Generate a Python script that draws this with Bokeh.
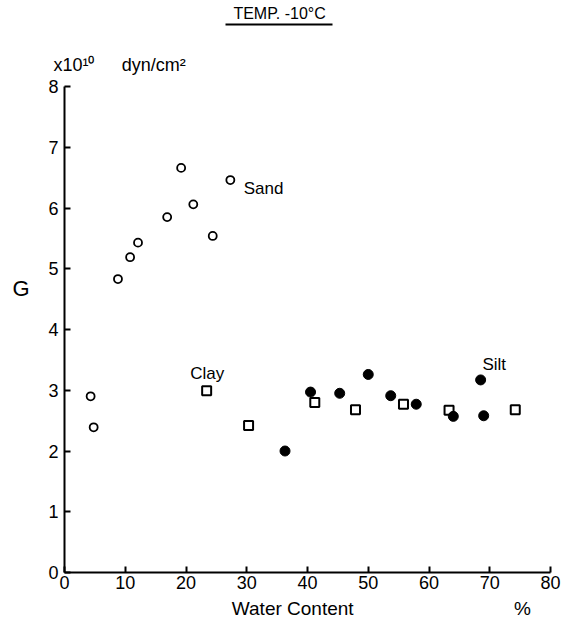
from bokeh.plotting import figure
from bokeh.models import Range1d, Label, FixedTicker, LinearAxis
from bokeh.embed import file_html
from bokeh.resources import INLINE

# Data (G in x10^10 dyn/cm^2 vs water content %)
sand_x = [4.3, 4.8, 8.8, 10.8, 12.1, 16.9, 19.2, 21.2, 24.4, 27.3]
sand_y = [2.90, 2.39, 4.83, 5.19, 5.43, 5.85, 6.66, 6.06, 5.54, 6.46]
clay_x = [23.4, 30.3, 41.2, 47.9, 55.8, 63.3, 74.2]
clay_y = [2.99, 2.42, 2.80, 2.68, 2.77, 2.67, 2.68]
silt_x = [36.3, 40.5, 45.3, 50.0, 53.7, 57.9, 64.0, 68.5, 69.0]
silt_y = [2.00, 2.97, 2.95, 3.26, 2.91, 2.77, 2.57, 3.17, 2.58]
x_ticks = [0, 10, 20, 30, 40, 50, 60, 70, 80]
y_ticks = [0, 1, 2, 3, 4, 5, 6, 7, 8]

FONT = "Liberation Sans"

p = figure(width=574, height=623, output_backend="svg", toolbar_location=None,
           x_range=Range1d(0, 80), y_range=Range1d(0, 8),
           min_border_left=64, min_border_right=24, min_border_top=86, min_border_bottom=51)
p.outline_line_color = None
p.grid.grid_line_color = None

for ax in (p.xaxis[0], p.yaxis[0]):
    ax.axis_line_width = 2
    ax.axis_line_color = "black"
    ax.major_tick_in = 6
    ax.major_tick_out = 0
    ax.major_tick_line_width = 2
    ax.minor_tick_line_color = None
    ax.major_label_text_font = FONT
    ax.major_label_text_font_size = "18px"
    ax.major_label_text_color = "black"
p.xaxis[0].ticker = FixedTicker(ticks=x_ticks)
p.yaxis[0].ticker = FixedTicker(ticks=y_ticks)
p.xaxis[0].major_label_standoff = 3
p.yaxis[0].major_label_standoff = 6


def text_axis(side, ticks, labels, size, standoff, line=False, bounds=None):
    ax = LinearAxis(ticker=FixedTicker(ticks=ticks),
                    major_label_overrides={t: s for t, s in zip(ticks, labels)},
                    major_tick_in=0, major_tick_out=0,
                    major_tick_line_color=None, minor_tick_line_color=None,
                    major_label_standoff=standoff,
                    major_label_text_font=FONT, major_label_text_font_size=size,
                    major_label_text_color="black")
    if line:
        ax.axis_line_width = 2
        ax.axis_line_color = "black"
        if bounds is not None:
            ax.bounds = bounds
    else:
        ax.axis_line_color = None
    p.add_layout(ax, side)
    return ax


# below: axis title and unit
text_axis("below", [38.0, 75.4], ["Water  Content", "%"], "19px", 6)
# left: G
text_axis("left", [4.67], ["G"], "22px", 16)
# above: unit, then title with underline
unit_ax = text_axis("above", [1.56, 14.7], ["x10\u00b9\u2070", "dyn/cm\u00b2"], "18px", 12)
unit_ax.axis_label = " "
unit_ax.axis_label_text_font_size = "10px"
unit_ax.axis_label_standoff = 13
text_axis("above", [35.4], ["TEMP. -10\u00b0C"], "16px", 3, line=True, bounds=(26.5, 44.1))

p.scatter(sand_x, sand_y, marker="circle", size=8, fill_color="white",
          line_color="black", line_width=1.8)
p.scatter(clay_x, clay_y, marker="square", size=9, fill_color="white",
          line_color="black", line_width=2)
p.scatter(silt_x, silt_y, marker="circle", size=10, fill_color="black",
          line_color="black")


def lab(x, y, t, size="17px"):
    p.add_layout(Label(x=x, y=y, text=t, text_font=FONT, text_font_size=size,
                       text_align="left", text_baseline="middle", text_color="black"))


lab(29.5, 6.32, "Sand")
lab(20.7, 3.28, "Clay")
lab(68.8, 3.42, "Silt")

open("out.html", "w").write(file_html(p, INLINE))
